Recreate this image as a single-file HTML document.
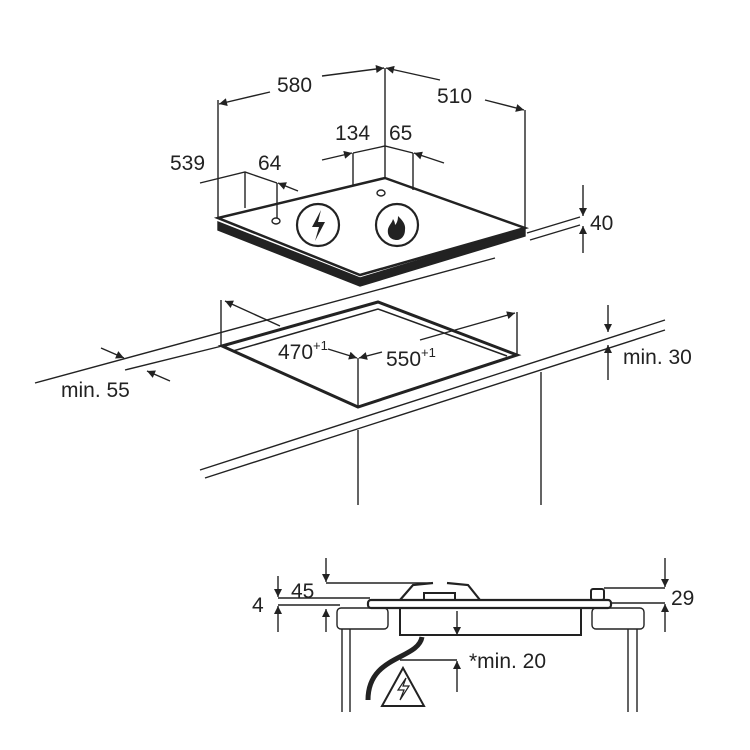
<!DOCTYPE html>
<html><head><style>body{margin:0;background:#fff}svg{display:block}text{font-family:"Liberation Sans",sans-serif;fill:#222}</style></head>
<body>
<svg width="750" height="750" viewBox="0 0 750 750" xmlns="http://www.w3.org/2000/svg">
<defs>
<marker id="a" viewBox="0 0 10 10" refX="10" refY="5" markerWidth="14" markerHeight="8" orient="auto-start-reverse" markerUnits="userSpaceOnUse"><path d="M0,0L10,5L0,10z" fill="#222"/></marker>
</defs>
<g stroke="#222" fill="none" stroke-width="1.4">
<line x1="35" y1="383" x2="495" y2="258"/>
<line x1="125" y1="370" x2="222" y2="346"/>
<line x1="200" y1="470" x2="665" y2="320"/>
<line x1="205" y1="478" x2="665" y2="330"/>
<line x1="358" y1="430" x2="358" y2="505"/>
<line x1="541" y1="372" x2="541" y2="505"/>
<path d="M222,346L378,302L517,355L358,407Z" stroke-width="3"/>
<path d="M233,351L378,309L507,356" stroke-width="1.5"/>
<line x1="221" y1="300" x2="221" y2="346"/>
<line x1="517" y1="312" x2="517" y2="355"/>
<line x1="225" y1="301" x2="280" y2="326" marker-start="url(#a)"/>
<line x1="420" y1="340" x2="515" y2="313" marker-end="url(#a)"/>
<line x1="358" y1="358" x2="358" y2="407"/>
<line x1="328" y1="349" x2="357" y2="358" marker-end="url(#a)"/>
<line x1="382" y1="352" x2="359" y2="358" marker-end="url(#a)"/>
<line x1="101" y1="348" x2="124" y2="358" marker-end="url(#a)"/>
<line x1="170" y1="381" x2="147" y2="371" marker-end="url(#a)"/>
<line x1="608" y1="305" x2="608" y2="332" marker-end="url(#a)"/>
<line x1="608" y1="380" x2="608" y2="345" marker-end="url(#a)"/>
<path d="M218,222L360,278L525,228L525,236L360,286L218,230Z" fill="#222"/>
<path d="M218,218L385,178L525,228L360,275Z" fill="#fff" stroke-width="2.5"/>
<circle cx="318" cy="225" r="21" stroke-width="2.2"/>
<path d="M321,210L312,227L319,227L315,241L325,222L318,222Z" fill="#222" stroke="none"/>
<circle cx="397" cy="225" r="21" stroke-width="2.2"/>
<path d="M397,240c-7,0-10-5-9-11c1-4,4-6,5-10c2,3,2,5,2,6c2-2,3-5,3-9c4,4,8,8,7,14c0,6-4,10-8,10z" fill="#222" stroke="none"/>
<ellipse cx="276" cy="221" rx="4" ry="3"/>
<ellipse cx="381" cy="193" rx="4" ry="3"/>
<line x1="218" y1="100" x2="218" y2="218"/>
<line x1="385" y1="68" x2="385" y2="178"/>
<line x1="525" y1="110" x2="525" y2="228"/>
<line x1="270" y1="92" x2="219" y2="104" marker-end="url(#a)"/>
<line x1="322" y1="76" x2="384" y2="68" marker-end="url(#a)"/>
<line x1="440" y1="80" x2="386" y2="68" marker-end="url(#a)"/>
<line x1="485" y1="100" x2="524" y2="110" marker-end="url(#a)"/>
<line x1="353" y1="153" x2="353" y2="186"/>
<line x1="413" y1="153" x2="413" y2="190"/>
<polyline points="353,153 385,146 413,153"/>
<line x1="322" y1="160" x2="352" y2="153" marker-end="url(#a)"/>
<line x1="444" y1="163" x2="414" y2="153" marker-end="url(#a)"/>
<line x1="245" y1="172" x2="245" y2="208"/>
<line x1="277" y1="183" x2="277" y2="218"/>
<polyline points="200,183 245,172 277,183"/>
<line x1="298" y1="191" x2="278" y2="183" marker-end="url(#a)"/>
<line x1="527" y1="233" x2="580" y2="217"/>
<line x1="530" y1="240" x2="580" y2="225"/>
<line x1="583" y1="185" x2="583" y2="216" marker-end="url(#a)"/>
<line x1="583" y1="253" x2="583" y2="226" marker-end="url(#a)"/>
<rect x="337" y="608" width="51" height="21" rx="4"/>
<rect x="592" y="608" width="52" height="21" rx="4"/>
<line x1="342" y1="629" x2="342" y2="712"/><line x1="350" y1="629" x2="350" y2="712"/>
<line x1="628" y1="629" x2="628" y2="712"/><line x1="637" y1="629" x2="637" y2="712"/>
<rect x="400" y="608" width="181" height="27" stroke-width="2"/>
<rect x="368" y="600" width="243" height="8" rx="3" stroke-width="2.2"/>
<path d="M400,600L413,585L433,583M447,583L468,585L480,600" stroke-width="2.2"/>
<rect x="424" y="593" width="31" height="7" stroke-width="2"/>
<rect x="591" y="589" width="13" height="11" rx="2" stroke-width="2"/>
<path d="M422,637C418,660 368,655 368,700" stroke-width="5"/>
<path d="M403,668L424,706L382,706Z" stroke-width="2"/>
<path d="M406,678L398,690L404,690L400,700L409,686L403,686Z" stroke-width="1.2"/>
<line x1="326" y1="558" x2="326" y2="582" marker-end="url(#a)"/>
<line x1="326" y1="583" x2="430" y2="583"/>
<line x1="326" y1="632" x2="326" y2="609" marker-end="url(#a)"/>
<line x1="278" y1="576" x2="278" y2="597" marker-end="url(#a)"/>
<line x1="278" y1="598" x2="370" y2="598"/>
<line x1="278" y1="605" x2="340" y2="605"/>
<line x1="278" y1="632" x2="278" y2="606" marker-end="url(#a)"/>
<line x1="665" y1="558" x2="665" y2="587" marker-end="url(#a)"/>
<line x1="604" y1="588" x2="665" y2="588"/>
<line x1="612" y1="603" x2="665" y2="603"/>
<line x1="665" y1="632" x2="665" y2="604" marker-end="url(#a)"/>
<line x1="457" y1="611" x2="457" y2="635" marker-end="url(#a)"/>
<line x1="400" y1="660" x2="457" y2="660"/>
<line x1="457" y1="692" x2="457" y2="661" marker-end="url(#a)"/>
</g>
<g font-size="21">
<text x="277" y="92">580</text>
<text x="437" y="103">510</text>
<text x="335" y="140">134</text>
<text x="389" y="140">65</text>
<text x="170" y="170">539</text>
<text x="258" y="170">64</text>
<text x="590" y="230">40</text>
<text x="278" y="359">470<tspan font-size="13" dy="-9">+1</tspan></text>
<text x="386" y="366">550<tspan font-size="13" dy="-9">+1</tspan></text>
<text x="623" y="364">min. 30</text>
<text x="61" y="397">min. 55</text>
<text x="291" y="598">45</text>
<text x="252" y="612">4</text>
<text x="671" y="605">29</text>
<text x="469" y="668">*min. 20</text>
</g>
</svg>
</body></html>
